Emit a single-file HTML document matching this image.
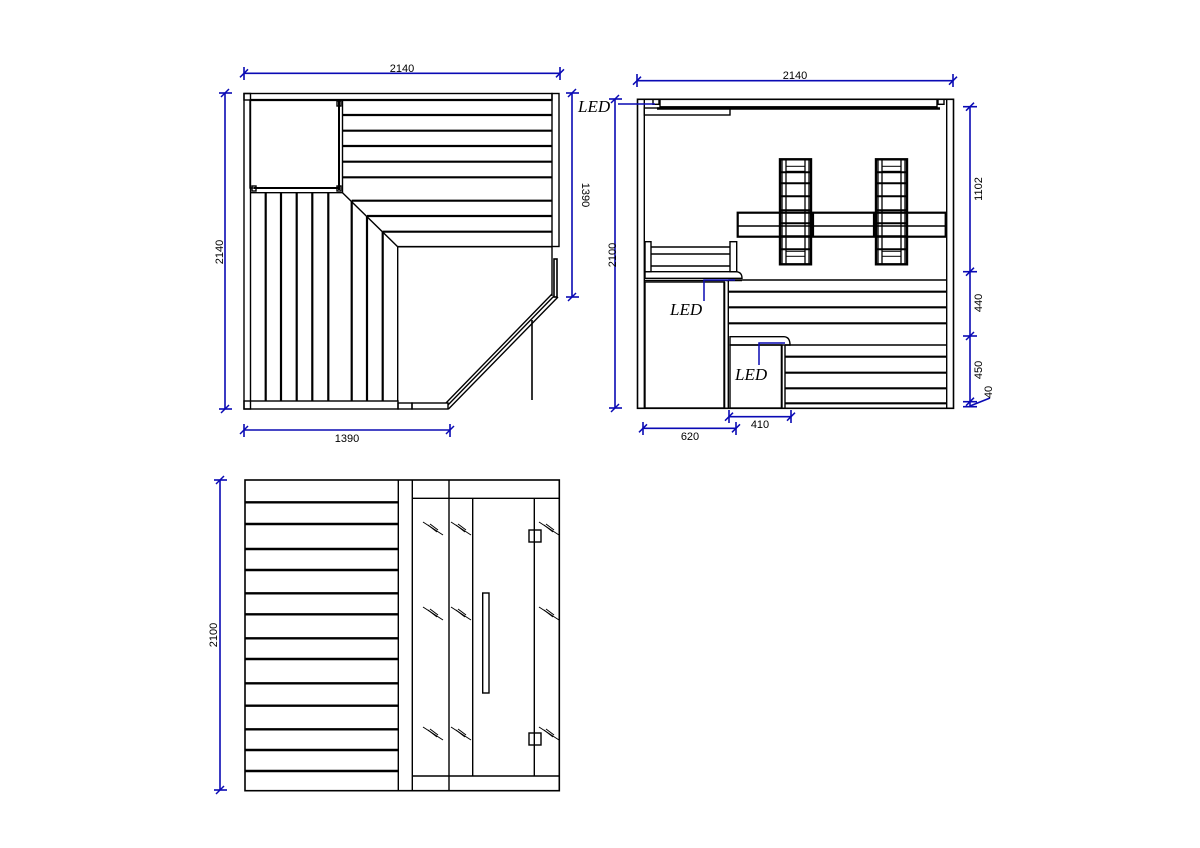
<!DOCTYPE html>
<html><head><meta charset="utf-8"><style>
html,body{margin:0;padding:0;background:#fff;}
svg{display:block;}
text{font-family:"Liberation Sans",sans-serif;font-size:11px;fill:#000;}
.led{font-family:"Liberation Serif",serif;font-style:italic;font-size:17px;}
</style></head><body>
<svg width="1200" height="848" viewBox="0 0 1200 848" xmlns="http://www.w3.org/2000/svg">
<defs>
<g id="hr">
 <rect x="0" y="0" width="31" height="105" fill="none" stroke="#000" stroke-width="2.4"/>
 <line x1="2" y1="0" x2="2" y2="105" stroke="#000" stroke-width="1.3"/><line x1="6" y1="0" x2="6" y2="105" stroke="#000" stroke-width="1.3"/>
 <line x1="25" y1="0" x2="25" y2="105" stroke="#000" stroke-width="1.3"/><line x1="29" y1="0" x2="29" y2="105" stroke="#000" stroke-width="1.3"/>
 <rect x="6" y="7" width="19" height="5" fill="none" stroke="#000"/>
 <rect x="6" y="92" width="19" height="5" fill="none" stroke="#000"/>
 <g stroke="#000" stroke-width="2">
 <line x1="0" y1="13" x2="31" y2="13"/><line x1="0" y1="24" x2="31" y2="24"/>
 <line x1="0" y1="37" x2="31" y2="37"/><line x1="0" y1="51" x2="31" y2="51"/>
 <line x1="0" y1="64" x2="31" y2="64"/><line x1="0" y1="77" x2="31" y2="77"/>
 <line x1="0" y1="90" x2="31" y2="90"/>
 </g>
</g>
<g id="hatch" stroke="#000" stroke-width="1">
 <line x1="0" y1="0" x2="20" y2="13"/><line x1="5" y1="3" x2="14" y2="10"/><line x1="7" y1="2" x2="15" y2="8"/>
</g>
<g id="tk" stroke="#0a0ab4" stroke-width="1.5"><line x1="-4" y1="4" x2="4" y2="-4"/></g>
</defs>

<!-- ============ PLAN VIEW ============ -->
<g fill="none" stroke="#000" stroke-width="1.4">
 <rect x="244" y="93.5" width="308" height="6.5"/>
 <rect x="244" y="93.5" width="6.5" height="315.5"/>
 <rect x="552" y="93.5" width="7" height="153"/>
 <rect x="244" y="401" width="154" height="8"/>
 <rect x="398" y="403" width="14" height="6"/>
 <rect x="412" y="403" width="36" height="6"/>
 <line x1="250" y1="100" x2="552" y2="100" stroke-width="2.2"/>
 <rect x="250" y="100" width="89" height="88"/>
 <line x1="339" y1="100" x2="339" y2="190" stroke-width="2"/>
 <line x1="254" y1="188" x2="339" y2="188" stroke-width="2"/>
 <rect x="252" y="186" width="4" height="5"/><rect x="337" y="101" width="4" height="5"/><rect x="337" y="186" width="4" height="5"/>
 <line x1="342.5" y1="100" x2="342.5" y2="192.7"/>
 <line x1="250" y1="192.7" x2="342.5" y2="192.7"/>
 <g stroke-width="2.2">
  <line x1="342.5" y1="115" x2="552" y2="115"/><line x1="342.5" y1="130.7" x2="552" y2="130.7"/>
  <line x1="342.5" y1="146" x2="552" y2="146"/><line x1="342.5" y1="161.7" x2="552" y2="161.7"/>
  <line x1="342.5" y1="177.3" x2="552" y2="177.3"/>
  <line x1="351.7" y1="200.7" x2="552" y2="200.7"/><line x1="367" y1="216" x2="552" y2="216"/>
  <line x1="382.7" y1="231.7" x2="552" y2="231.7"/>
  <line x1="265.7" y1="192.7" x2="265.7" y2="401"/><line x1="281" y1="192.7" x2="281" y2="401"/>
  <line x1="296.7" y1="192.7" x2="296.7" y2="401"/><line x1="312.3" y1="192.7" x2="312.3" y2="401"/>
  <line x1="328.3" y1="192.7" x2="328.3" y2="401"/>
  <line x1="351.7" y1="200.7" x2="351.7" y2="401"/><line x1="367" y1="216" x2="367" y2="401"/>
  <line x1="382.7" y1="231.7" x2="382.7" y2="401"/>
 </g>
 <line x1="342.5" y1="192.7" x2="397.7" y2="246.7"/>
 <line x1="397.7" y1="246.7" x2="552" y2="246.7" stroke-width="1.6"/>
 <line x1="397.7" y1="246.7" x2="397.7" y2="401"/>
 <line x1="552" y1="246.7" x2="552" y2="296"/>
 <rect x="554" y="259" width="3" height="38" stroke-width="1.6"/>
 <line x1="448.5" y1="409" x2="558" y2="297"/>
 <line x1="446" y1="403" x2="552" y2="294"/>
 <line x1="448" y1="405" x2="554" y2="296"/>
 <line x1="532" y1="320" x2="532" y2="400" stroke-width="1.6"/>
</g>
<!-- plan dims -->
<g stroke="#0a0ab4" stroke-width="1.6" fill="none">
 <line x1="244" y1="73.3" x2="560" y2="73.3"/>
 <line x1="244" y1="67" x2="244" y2="80"/><line x1="560" y1="67" x2="560" y2="80"/>
 <line x1="225" y1="93" x2="225" y2="409"/>
 <line x1="219" y1="93" x2="232" y2="93"/><line x1="219" y1="409" x2="232" y2="409"/>
 <line x1="244" y1="430" x2="450" y2="430"/>
 <line x1="244" y1="424" x2="244" y2="437"/><line x1="450" y1="424" x2="450" y2="437"/>
 <line x1="572" y1="93" x2="572" y2="297"/>
 <line x1="566" y1="93" x2="579" y2="93"/><line x1="566" y1="297" x2="579" y2="297"/>
</g>
<use href="#tk" x="244" y="73.3"/><use href="#tk" x="560" y="73.3"/>
<use href="#tk" x="225" y="93"/><use href="#tk" x="225" y="409"/>
<use href="#tk" x="244" y="430"/><use href="#tk" x="450" y="430"/>
<use href="#tk" x="572" y="93"/><use href="#tk" x="572" y="297"/>
<text x="402" y="72" text-anchor="middle">2140</text>
<text x="347" y="442" text-anchor="middle">1390</text>
<text transform="translate(223,252) rotate(-90)" text-anchor="middle">2140</text>
<text transform="translate(582,195) rotate(90)" text-anchor="middle">1390</text>

<!-- ============ ELEVATION ============ -->
<g fill="none" stroke="#000" stroke-width="1.4">
 <rect x="637.5" y="99.3" width="316" height="309" stroke-width="1.6"/>
 <line x1="644.3" y1="99.3" x2="644.3" y2="408"/>
 <line x1="946.7" y1="99.3" x2="946.7" y2="408"/>
 <rect x="660" y="99.3" width="277" height="7.5"/>
 <line x1="657" y1="108.5" x2="940" y2="108.5" stroke-width="2.4"/>
 <rect x="644.3" y="108" width="85.7" height="7"/>
 <rect x="653" y="99.3" width="6" height="5"/><rect x="938" y="99.3" width="6" height="5"/>
 <rect x="737.7" y="212.7" width="208" height="24" stroke-width="2.2"/>
 <line x1="737.7" y1="226" x2="945.7" y2="226" stroke-width="1.6"/>
 <line x1="813" y1="212.7" x2="813" y2="236.7" stroke-width="2.2"/>
 <line x1="874" y1="212.7" x2="874" y2="236.7" stroke-width="2.2"/>
 <rect x="645" y="241.7" width="6" height="30"/>
 <rect x="730" y="241.7" width="6.7" height="30"/>
 <line x1="651" y1="247" x2="730" y2="247"/><line x1="651" y1="254" x2="730" y2="254"/>
 <line x1="651" y1="266" x2="730" y2="266"/>
 <path d="M645 271.7 H736 Q742 272 742 278.3 H645 Z"/>
 <line x1="645" y1="280.5" x2="742" y2="280.5"/>
 <rect x="645" y="282" width="79.3" height="126"/>
 <line x1="724.3" y1="282" x2="724.3" y2="408" stroke-width="2"/>
 <line x1="728.3" y1="280" x2="946.7" y2="280"/>
 <line x1="728.3" y1="280" x2="728.3" y2="408"/>
 <g stroke-width="2.2">
  <line x1="728.3" y1="291.7" x2="946.7" y2="291.7"/><line x1="728.3" y1="307.3" x2="946.7" y2="307.3"/>
  <line x1="728.3" y1="323.3" x2="946.7" y2="323.3"/>
 </g>
 <path d="M730 336.7 H784 Q790 337 790 345 H730 Z"/>
 <rect x="730" y="345" width="51.7" height="63"/>
 <line x1="781.7" y1="345" x2="781.7" y2="408" stroke-width="2"/>
 <line x1="785" y1="345" x2="785" y2="408"/>
 <line x1="785" y1="345" x2="946.7" y2="345"/>
 <g stroke-width="2.2">
  <line x1="785" y1="356.7" x2="946.7" y2="356.7"/><line x1="785" y1="372.7" x2="946.7" y2="372.7"/>
  <line x1="785" y1="388.3" x2="946.7" y2="388.3"/><line x1="785" y1="403.3" x2="946.7" y2="403.3"/>
 </g>
</g>
<use href="#hr" x="780" y="159.3"/>
<use href="#hr" x="876" y="159.3"/>
<g stroke="#0a0ab4" stroke-width="1.5" fill="none">
 <polyline points="618,104 655,104"/>
 <polyline points="704,301 704,280 735,280"/>
 <polyline points="759,365 759,343 785,343"/>
</g>
<text class="led" x="578" y="112">LED</text>
<text class="led" x="670" y="315">LED</text>
<text class="led" x="735" y="380">LED</text>
<g stroke="#0a0ab4" stroke-width="1.6" fill="none">
 <line x1="637" y1="80.7" x2="953" y2="80.7"/>
 <line x1="637" y1="74" x2="637" y2="87"/><line x1="953" y1="74" x2="953" y2="87"/>
 <line x1="615" y1="99" x2="615" y2="408"/>
 <line x1="609" y1="99" x2="622" y2="99"/><line x1="609" y1="408" x2="622" y2="408"/>
 <line x1="970" y1="106.7" x2="970" y2="406.7"/>
 <line x1="963" y1="106.7" x2="977" y2="106.7"/><line x1="963" y1="271.7" x2="977" y2="271.7"/>
 <line x1="963" y1="336" x2="977" y2="336"/><line x1="963" y1="401.7" x2="977" y2="401.7"/>
 <line x1="963" y1="406.7" x2="977" y2="406.7"/>
 <line x1="970" y1="406" x2="990" y2="398"/>
 <line x1="643" y1="428.3" x2="736" y2="428.3"/>
 <line x1="643" y1="422" x2="643" y2="435"/><line x1="736" y1="422" x2="736" y2="435"/>
 <line x1="729" y1="416.7" x2="791" y2="416.7"/>
 <line x1="729" y1="410" x2="729" y2="423"/><line x1="791" y1="410" x2="791" y2="423"/>
</g>
<use href="#tk" x="637" y="80.7"/><use href="#tk" x="953" y="80.7"/>
<use href="#tk" x="615" y="99"/><use href="#tk" x="615" y="408"/>
<use href="#tk" x="970" y="106.7"/><use href="#tk" x="970" y="271.7"/><use href="#tk" x="970" y="336"/><use href="#tk" x="970" y="401.7"/>
<use href="#tk" x="643" y="428.3"/><use href="#tk" x="736" y="428.3"/>
<use href="#tk" x="729" y="416.7"/><use href="#tk" x="791" y="416.7"/>
<text x="795" y="79" text-anchor="middle">2140</text>
<text transform="translate(616,255) rotate(-90)" text-anchor="middle">2100</text>
<text transform="translate(982,189) rotate(-90)" text-anchor="middle">1102</text>
<text transform="translate(982,303) rotate(-90)" text-anchor="middle">440</text>
<text transform="translate(982,370) rotate(-90)" text-anchor="middle">450</text>
<text transform="translate(992,392) rotate(-90)" text-anchor="middle">40</text>
<text x="690" y="440" text-anchor="middle">620</text>
<text x="760" y="428" text-anchor="middle">410</text>

<!-- ============ FRONT VIEW ============ -->
<g fill="none" stroke="#000" stroke-width="1.4">
 <rect x="245" y="480" width="314.3" height="310.7" stroke-width="1.6"/>
 <line x1="398.3" y1="480" x2="398.3" y2="790.7"/>
 <line x1="412.3" y1="480" x2="412.3" y2="790.7"/>
 <line x1="449" y1="480" x2="449" y2="790.7"/>
 <line x1="412.3" y1="498.3" x2="559.3" y2="498.3"/>
 <line x1="412.3" y1="776" x2="559.3" y2="776"/>
 <line x1="472.7" y1="498.3" x2="472.7" y2="776"/>
 <line x1="534.3" y1="498.3" x2="534.3" y2="776"/>
 <rect x="482.7" y="593" width="6.3" height="100"/>
 <rect x="529" y="530" width="12" height="12"/>
 <rect x="529" y="733" width="12" height="12"/>
 <g stroke-width="2.4">
  <line x1="245" y1="502.3" x2="398.3" y2="502.3"/><line x1="245" y1="524" x2="398.3" y2="524"/>
  <line x1="245" y1="549" x2="398.3" y2="549"/><line x1="245" y1="570" x2="398.3" y2="570"/>
  <line x1="245" y1="593.3" x2="398.3" y2="593.3"/><line x1="245" y1="614.3" x2="398.3" y2="614.3"/>
  <line x1="245" y1="638.3" x2="398.3" y2="638.3"/><line x1="245" y1="659" x2="398.3" y2="659"/>
  <line x1="245" y1="683.3" x2="398.3" y2="683.3"/><line x1="245" y1="705.7" x2="398.3" y2="705.7"/>
  <line x1="245" y1="729.3" x2="398.3" y2="729.3"/><line x1="245" y1="750" x2="398.3" y2="750"/>
  <line x1="245" y1="771" x2="398.3" y2="771"/>
 </g>
</g>
<use href="#hatch" x="423" y="522"/><use href="#hatch" x="451" y="522"/><use href="#hatch" x="539" y="522"/>
<use href="#hatch" x="423" y="607"/><use href="#hatch" x="451" y="607"/><use href="#hatch" x="539" y="607"/>
<use href="#hatch" x="423" y="727"/><use href="#hatch" x="451" y="727"/><use href="#hatch" x="539" y="727"/>
<g stroke="#0a0ab4" stroke-width="1.6" fill="none">
 <line x1="220" y1="480" x2="220" y2="790"/>
 <line x1="214" y1="480" x2="227" y2="480"/><line x1="214" y1="790" x2="227" y2="790"/>
</g>
<use href="#tk" x="220" y="480"/><use href="#tk" x="220" y="790"/>
<text transform="translate(217,635) rotate(-90)" text-anchor="middle">2100</text>
</svg>
</body></html>
